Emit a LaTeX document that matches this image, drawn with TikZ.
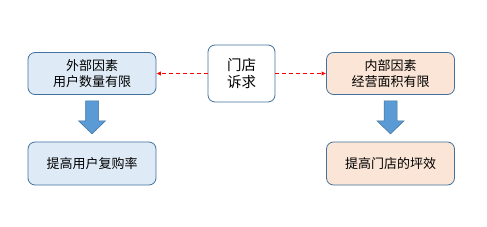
\documentclass[tikz,border=0pt]{standalone}
\usepackage{fontspec}
\usepackage{xcolor}
\usepackage{tikz}
\usetikzlibrary{positioning,arrows.meta,calc}
\newfontfamily\cjk{Noto Sans CJK SC}
\definecolor{edge}{RGB}{65,113,156}
\definecolor{outfill}{RGB}{222,235,247}
\definecolor{infill}{RGB}{251,229,214}
\definecolor{arrowfill}{RGB}{91,155,213}

\begin{document}
\begin{tikzpicture}[x=1pt,y=-1pt,every node/.style={font=\cjk\fontsize{13}{16}\selectfont}]
  \tikzset{
    card/.style={draw=edge,line width=0.8pt,rounded corners=7pt,align=center,
      minimum width=128pt,minimum height=42pt,inner sep=0pt},
    outcard/.style={card,fill=outfill},
    incard/.style={card,fill=infill},
    hint/.style={red,line width=1pt,dash pattern=on 4pt off 3pt,-{Latex[length=4.5pt,width=4.5pt]}},
    blockarrow/.style={fill=arrowfill,draw=edge,line width=0.5pt,line join=miter}
  }
  \useasboundingbox (0,0) rectangle (487,227);
  \node[card,fill=white,minimum width=67pt,minimum height=57pt,
    font=\cjk\fontsize{14.5}{17}\selectfont] (ask) at (241.5,73.5) {门店\\诉求};
  \node[outcard] (ext) at (92,73.5) {外部因素\\用户数量有限};
  \node[incard] (int) at (390.5,73.5) {内部因素\\经营面积有限};
  \node[outcard,minimum height=43pt] (extgoal) at (92,163.5) {提高用户复购率};
  \node[incard,minimum height=43pt] (intgoal) at (390.5,163.5) {提高门店的坪效};
  \draw[hint] (ask.west) -- (ext.east);
  \draw[hint] (ask.east) -- (int.west);
  % block arrows
  \coordinate (la) at ($(ext.south)+(0,6)$);
  \coordinate (ra) at ($(int.south)+(0,6)$);
  \foreach \a in {la,ra}
    \draw[blockarrow] (\a) ++(-6.5,0) -- ++(13,0) -- ++(0,20) -- ++(7,0)
      -- ++(-13.5,13) -- ++(-13.5,-13) -- ++(7,0) -- cycle;
\end{tikzpicture}
\end{document}
